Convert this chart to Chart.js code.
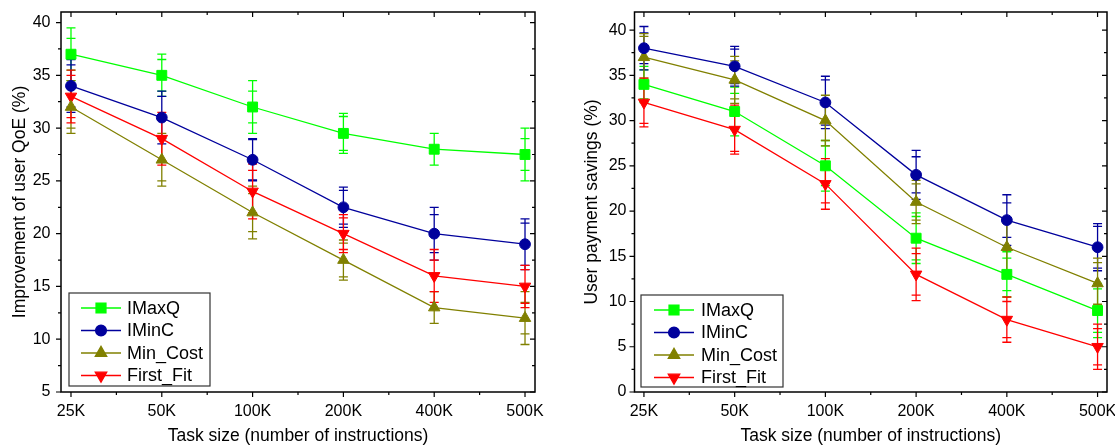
<!DOCTYPE html>
<html>
<head>
<meta charset="utf-8">
<script src="https://cdn.jsdelivr.net/npm/chart.js@4.4.1/dist/chart.umd.min.js"></script>
<style>
  html, body { margin: 0; padding: 0; background: #fff; }
  #wrap { position: relative; width: 1115px; height: 447px; overflow: hidden; }
  canvas { position: absolute; top: 0; }
</style>
</head>
<body>
<div id="wrap">
  <canvas id="qoeChart" width="557" height="447" style="left:0;width:557px;height:447px"></canvas>
  <canvas id="payChart" width="558" height="447" style="left:557px;width:558px;height:447px"></canvas>
</div>
<script>
// ---- data ----
const taskSizes = ['25K', '50K', '100K', '200K', '400K', '500K'];
const seriesNames = ['IMaxQ', 'IMinC', 'Min_Cost', 'First_Fit'];

// Improvement of user QoE (%)
const qoeIMaxQ    = [37, 35, 32, 29.5, 28, 27.5];
const qoeIMinC    = [34, 31, 27, 22.5, 20, 19];
const qoeMinCost  = [32, 27, 22, 17.5, 13, 12];
const qoeFirstFit = [33, 29, 24, 20, 16, 15];
// error half-widths: outer (range) and inner (deviation)
const qoeIMaxQErrOuter    = [2.5, 2.0, 2.5, 1.9, 1.5, 2.5];
const qoeIMaxQErrInner    = [1.5, 1.5, 1.5, 1.6, 1.5, 1.5];
const qoeIMinCErrOuter    = [2.5, 2.5, 2.0, 1.9, 2.5, 2.4];
const qoeIMinCErrInner    = [2.0, 2.0, 1.9, 1.6, 1.8, 2.0];
const qoeMinCostErrOuter  = [2.5, 2.5, 2.5, 1.9, 1.5, 2.5];
const qoeMinCostErrInner  = [2.0, 2.0, 1.8, 1.6, 1.5, 1.5];
const qoeFirstFitErrOuter = [2.5, 2.5, 2.6, 1.8, 2.5, 2.0];
const qoeFirstFitErrInner = [2.0, 2.1, 2.0, 1.5, 1.5, 1.6];
const qoeYTicks = [5, 10, 15, 20, 25, 30, 35, 40];

// User payment savings (%)
const payIMaxQ    = [34, 31, 25, 17, 13, 9];
const payIMinC    = [38, 36, 32, 24, 19, 16];
const payMinCost  = [37, 34.5, 30, 21, 16, 12];
const payFirstFit = [32, 29, 23, 13, 8, 5];
const payIMaxQErrOuter    = [2.0, 2.7, 2.8, 2.8, 2.5, 3.0];
const payIMaxQErrInner    = [1.6, 2.0, 2.2, 2.4, 1.8, 2.4];
const payIMinCErrOuter    = [2.4, 2.2, 2.9, 2.7, 2.8, 2.6];
const payIMinCErrInner    = [1.7, 1.9, 2.5, 2.0, 1.9, 2.3];
const payMinCostErrOuter  = [2.6, 2.6, 2.8, 2.4, 3.0, 2.8];
const payMinCostErrInner  = [2.3, 2.1, 2.2, 2.0, 2.7, 2.3];
const payFirstFitErrOuter = [2.7, 2.7, 2.8, 2.9, 2.5, 2.5];
const payFirstFitErrInner = [2.3, 2.4, 2.1, 2.3, 2.0, 2.0];
const payYTicks = [0, 5, 10, 15, 20, 25, 30, 35, 40];

// ---- styling ----
const FONT = "'Liberation Sans', Arial, sans-serif";
Chart.defaults.font.family = FONT;
Chart.defaults.color = '#000';

const seriesStyle = [
  { color: '#00ff00', pointStyle: 'rect',     radius: 7.0, rotation: 0 },
  { color: '#00009c', pointStyle: 'circle',   radius: 5.4, rotation: 0 },
  { color: '#808000', pointStyle: 'triangle', radius: 6.6, rotation: 0 },
  { color: '#ff0000', pointStyle: 'triangle', radius: 6.6, rotation: 180 }
];

function makeDatasets(values, outer, inner) {
  return values.map((vals, s) => ({
    label: seriesNames[s],
    data: vals.map((v, i) => ({ x: i, y: v })),
    errOuter: outer[s],
    errInner: inner[s],
    borderColor: seriesStyle[s].color,
    backgroundColor: seriesStyle[s].color,
    borderWidth: 1.3,
    pointStyle: seriesStyle[s].pointStyle,
    pointRadius: seriesStyle[s].radius,
    pointHoverRadius: seriesStyle[s].radius,
    pointRotation: seriesStyle[s].rotation,
    pointBorderWidth: 1,
    tension: 0
  }));
}

// error bars with two cap levels, frame with Origin-style ticks, boxed legend
const framePlugin = {
  id: 'frameAndErrors',
  beforeDatasetsDraw(chart) {
    const ctx = chart.ctx, xs = chart.scales.x, ys = chart.scales.y;
    const capHalf = 4.5;
    chart.data.datasets.forEach(ds => {
      ctx.save();
      ctx.strokeStyle = ds.borderColor;
      ctx.lineWidth = 1.3;
      ds.data.forEach((p, i) => {
        const x = xs.getPixelForValue(p.x);
        const top = ys.getPixelForValue(p.y + ds.errOuter[i]);
        const bot = ys.getPixelForValue(p.y - ds.errOuter[i]);
        const itop = ys.getPixelForValue(p.y + ds.errInner[i]);
        const ibot = ys.getPixelForValue(p.y - ds.errInner[i]);
        ctx.beginPath();
        ctx.moveTo(x, top); ctx.lineTo(x, bot);
        [top, bot, itop, ibot].forEach(yy => {
          ctx.moveTo(x - capHalf, yy); ctx.lineTo(x + capHalf, yy);
        });
        ctx.stroke();
      });
      ctx.restore();
    });
  },
  afterDraw(chart) {
    const ctx = chart.ctx, a = chart.chartArea, xs = chart.scales.x, ys = chart.scales.y;
    ctx.save();
    ctx.strokeStyle = '#000';
    ctx.lineWidth = 1.5;
    ctx.strokeRect(a.left, a.top, a.right - a.left, a.bottom - a.top);
    ctx.lineWidth = 1.2;
    ctx.beginPath();
    const major = 5, minor = 3;
    // x ticks: outward at bottom, inward at top
    xs.ticks.forEach((t, i) => {
      const x = xs.getPixelForValue(t.value);
      ctx.moveTo(x, a.bottom); ctx.lineTo(x, a.bottom + major);
      ctx.moveTo(x, a.top); ctx.lineTo(x, a.top + major);
      if (i < xs.ticks.length - 1) {
        const xm = xs.getPixelForValue(t.value + 0.5);
        ctx.moveTo(xm, a.bottom); ctx.lineTo(xm, a.bottom + minor);
        ctx.moveTo(xm, a.top); ctx.lineTo(xm, a.top + minor);
      }
    });
    // y ticks: outward at left, inward at right
    ys.ticks.forEach((t, i) => {
      const y = ys.getPixelForValue(t.value);
      ctx.moveTo(a.left, y); ctx.lineTo(a.left - major, y);
      ctx.moveTo(a.right, y); ctx.lineTo(a.right - major, y);
      const vm = t.value + 2.5;
      if (vm < ys.max) {
        const ym = ys.getPixelForValue(vm);
        ctx.moveTo(a.left, ym); ctx.lineTo(a.left - minor, ym);
        ctx.moveTo(a.right, ym); ctx.lineTo(a.right - minor, ym);
      }
    });
    ctx.stroke();

    // legend box
    const lg = chart.options.plugins.boxLegend;
    ctx.fillStyle = '#fff';
    ctx.fillRect(lg.x, lg.y, lg.w, lg.h);
    ctx.strokeStyle = '#333';
    ctx.lineWidth = 1.2;
    ctx.strokeRect(lg.x, lg.y, lg.w, lg.h);
    ctx.font = '18px ' + FONT;
    ctx.textBaseline = 'middle';
    ctx.textAlign = 'left';
    chart.data.datasets.forEach((ds, s) => {
      const st = seriesStyle[s];
      const ry = lg.y + lg.row0 + s * lg.rowGap;
      ctx.strokeStyle = st.color;
      ctx.fillStyle = st.color;
      ctx.lineWidth = 1.3;
      ctx.beginPath();
      ctx.moveTo(lg.x + lg.lineX0, ry); ctx.lineTo(lg.x + lg.lineX1, ry);
      ctx.stroke();
      Chart.helpers.drawPoint(ctx, {
        pointStyle: st.pointStyle, rotation: st.rotation, radius: st.radius, borderWidth: 1
      }, lg.x + (lg.lineX0 + lg.lineX1) / 2, ry);
      ctx.fillStyle = '#000';
      ctx.fillText(ds.label, lg.x + lg.textX, ry + 1);
    });
    ctx.restore();
  }
};

function buildChart(id, cfg) {
  const yt = cfg.yTicks;
  return new Chart(document.getElementById(id), {
    type: 'line',
    data: { datasets: makeDatasets(cfg.values, cfg.outer, cfg.inner) },
    plugins: [framePlugin],
    options: {
      responsive: false,
      animation: false,
      devicePixelRatio: 1,
      layout: { padding: { left: 0, right: cfg.padRight, top: 12, bottom: 0 } },
      plugins: {
        legend: { display: false },
        tooltip: { enabled: false },
        boxLegend: cfg.legend
      },
      scales: {
        x: {
          type: 'linear',
          min: cfg.xMin, max: cfg.xMax,
          grid: { display: false, drawTicks: false },
          border: { display: false },
          afterBuildTicks: s => { s.ticks = taskSizes.map((_, i) => ({ value: i })); },
          afterFit: s => { s.height = 55; s.paddingLeft = 0; s.paddingRight = 0; },
          ticks: {
            padding: 10,
            maxRotation: 0,
            autoSkip: false,
            font: { size: 16 },
            callback: v => taskSizes[v]
          },
          title: {
            display: true,
            text: 'Task size (number of instructions)',
            font: { size: 17.5 },
            padding: { top: 0, bottom: 0 }
          }
        },
        y: {
          type: 'linear',
          min: cfg.yMin, max: cfg.yMax,
          grid: { display: false, drawTicks: false },
          border: { display: false },
          afterBuildTicks: s => { s.ticks = yt.map(v => ({ value: v })); },
          afterFit: s => { s.width = cfg.yWidth; s.paddingTop = 0; s.paddingBottom = 0; },
          ticks: { padding: cfg.yTickPad, font: { size: 16 } },
          title: {
            display: true,
            text: cfg.yTitle,
            font: { size: 17.5 },
            padding: { top: cfg.yTitlePad, bottom: 0 }
          }
        }
      }
    }
  });
}

buildChart('qoeChart', {
  values: [qoeIMaxQ, qoeIMinC, qoeMinCost, qoeFirstFit],
  outer: [qoeIMaxQErrOuter, qoeIMinCErrOuter, qoeMinCostErrOuter, qoeFirstFitErrOuter],
  inner: [qoeIMaxQErrInner, qoeIMinCErrInner, qoeMinCostErrInner, qoeFirstFitErrInner],
  yTicks: qoeYTicks, yMin: 5, yMax: 41,
  xMin: -0.11, xMax: 5.11,
  yWidth: 61, padRight: 22, yTickPad: 10.5, yTitlePad: 9.5,
  yTitle: 'Improvement of user QoE (%)',
  legend: { x: 69, y: 293, w: 141, h: 93, row0: 15, rowGap: 22.5, lineX0: 12, lineX1: 52, textX: 58 }
});

buildChart('payChart', {
  values: [payIMaxQ, payIMinC, payMinCost, payFirstFit],
  outer: [payIMaxQErrOuter, payIMinCErrOuter, payMinCostErrOuter, payFirstFitErrOuter],
  inner: [payIMaxQErrInner, payIMinCErrInner, payMinCostErrInner, payFirstFitErrInner],
  yTicks: payYTicks, yMin: 0, yMax: 42,
  xMin: -0.104, xMax: 5.104,
  yWidth: 77.5, padRight: 5.5, yTickPad: 8, yTitlePad: 25,
  yTitle: 'User payment savings (%)',
  legend: { x: 84, y: 295, w: 142, h: 92, row0: 15, rowGap: 22.5, lineX0: 13, lineX1: 53, textX: 60 }
});
</script>
</body>
</html>
